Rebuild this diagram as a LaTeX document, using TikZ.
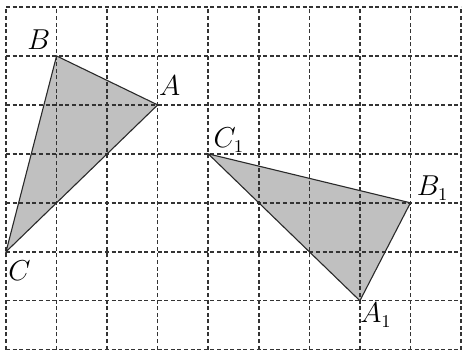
\documentclass[tikz,border=0pt]{standalone}
\usepackage{amsmath,amssymb}
\usepackage{xcolor}
\usepackage{tikz}
\usetikzlibrary{calc}
\definecolor{gridc}{HTML}{333333}
\definecolor{shade}{HTML}{C0C0C0}
\definecolor{edge}{HTML}{2A2A2A}
\tikzset{gridline/.style={draw=gridc,line width=0.75pt,dash pattern=on 2pt off 1.3pt},tri/.style={draw=edge,line width=0.55pt,line join=miter},trifill/.style={fill=shade},ptlab/.style={inner sep=0pt,font=\fontsize{13.5}{15}\selectfont}}

\begin{document}
\begin{tikzpicture}[x=25.3pt,y=24.5pt]
\useasboundingbox (-0.119,-0.041) rectangle (9.02,7.143);
\coordinate (B) at (1,6);
\coordinate (A) at (3,5);
\coordinate (C) at (0,2);
\coordinate (C1) at (4,4);
\coordinate (B1) at (8,3);
\coordinate (A1) at (7,1);
\fill[trifill] (A) -- (B) -- (C) -- cycle;
\fill[trifill] (A1) -- (B1) -- (C1) -- cycle;
\foreach \i in {0,...,9} \draw[gridline] (\i,0) -- (\i,7);
\foreach \j in {0,...,7} \draw[gridline] (0,\j) -- (9,\j);
\draw[tri] (A) -- (B) -- (C) -- cycle;
\draw[tri] (A1) -- (B1) -- (C1) -- cycle;
\node[ptlab,anchor=base west,xshift=0.5pt,yshift=4.5pt] (labA) at (A) {$A$};
\node[ptlab,anchor=base east,xshift=-3pt,yshift=3pt] (labB) at (B) {$B$};
\node[ptlab,anchor=base west,xshift=1pt,yshift=-14.5pt] (labC) at (C) {$C$};
\node[ptlab,anchor=base west,xshift=2.5pt,yshift=3pt] (labC1) at (C1) {$C_1$};
\node[ptlab,anchor=base west,xshift=3pt,yshift=3.5pt] (labB1) at (B1) {$B_1$};
\node[ptlab,anchor=base west,xshift=0pt,yshift=-11pt] (labA1) at (A1) {$A_1$};
\end{tikzpicture}
\end{document}
